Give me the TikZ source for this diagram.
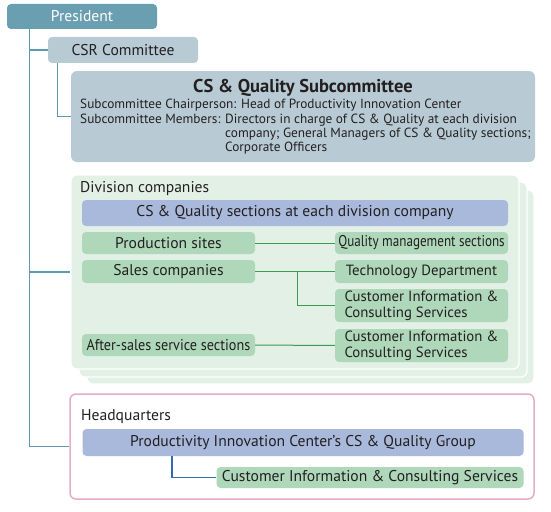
\documentclass[tikz,border=0pt]{standalone}
\usepackage{fontspec}
\setmainfont{PT Sans}
\newfontfamily\narrowfont[FakeStretch=0.84]{PT Sans}
\newfontfamily\semifont[FakeStretch=0.91]{PT Sans}
\usetikzlibrary{positioning}

\definecolor{presfill}{HTML}{6A9FB1}
\definecolor{trunkcol}{HTML}{5E9AAF}
\definecolor{greyblue}{HTML}{B8CBD5}
\definecolor{divbg}{HTML}{E3F0E6}
\definecolor{greenbox}{HTML}{AED8B9}
\definecolor{bluebar}{HTML}{A9B9DC}
\definecolor{greenline}{HTML}{3C9A52}
\definecolor{hqpink}{HTML}{E8AAC8}
\definecolor{hqline}{HTML}{2F6DB0}
\definecolor{txt}{HTML}{231F20}

\tikzset{
  box/.style={rounded corners=4pt, inner sep=0pt, text=txt, font=\fontsize{15.6}{16}\selectfont},
  unit/.style={box, fill=greenbox, minimum width=173pt},
  rightunit/.style={unit, font=\fontsize{14.8}{16}\selectfont},
  bar/.style={box, fill=bluebar},
  panel/.style={rounded corners=6pt, fill=divbg, draw=white, line width=1.2pt},
  trunk/.style={draw=trunkcol, line width=1.2pt},
  gline/.style={draw=greenline, line width=1pt},
}

\begin{document}
\begin{tikzpicture}[x=1pt,y=-1pt]
    \useasboundingbox (0,0) rectangle (551,511);
    % top of the chart
    \node[box, fill=presfill, text=white, minimum width=150pt, minimum height=25pt] (pres) at (82,16.5) {President};
    \node[box, fill=greyblue, minimum width=150pt, minimum height=26pt] (csr) at (123,50) {CSR Committee};
    \node[box, fill=greyblue, rounded corners=6pt, minimum width=464pt, minimum height=91pt] (sub) at (303,116.5) {};
    \node[font=\fontsize{18.5}{19}\selectfont\bfseries, text=txt, inner sep=0pt] (subtitle) at (303,87.5) {CS \& Quality Subcommittee};
    \node[anchor=north west, inner sep=0pt, text=txt, font=\fontsize{13.3}{14.3}\selectfont] (subtext) at (80,98.5) {%
      \begin{tabular}{@{}l@{ }l@{}}
        \multicolumn{2}{@{}l@{}}{Subcommittee Chairperson: Head of Productivity Innovation Center}\\
        Subcommittee Members: & Directors in charge of CS \& Quality at each division\\
        & company; General Managers of CS \& Quality sections;\\
        & Corporate Officers
      \end{tabular}};

    % division companies (stacked)
    \node[panel, minimum width=447pt, minimum height=194pt] (div3) at (310.5,287) {};
    \node[panel, minimum width=448pt, minimum height=195pt] (div2) at (303,279.5) {};
    \node[panel, minimum width=448pt, minimum height=194pt] (div) at (295,272) {};
    \node[anchor=west, inner sep=0pt, text=txt, font=\fontsize{15.6}{16}\selectfont] (divlabel) at (80,188.5) {Division companies};
    \node[bar, minimum width=426pt, minimum height=26pt] (divbar) at (295,213) {CS \& Quality sections at each division company};
    \node[unit, minimum height=22pt] (prod) at (168.5,243) {Production sites};
    \node[unit, minimum height=23pt] (sales) at (168.5,271.5) {Sales companies};
    \node[unit, minimum height=22pt] (after) at (168.5,345) {\semifont After-sales service sections};
    \node[unit, minimum height=22pt] (qms) at (421.5,243) {\narrowfont Quality management sections};
    \node[rightunit, minimum height=23pt] (tech) at (421.5,271.5) {Technology Department};
    \node[rightunit, minimum height=33pt, align=left] (cics1) at (421.5,305.5) {Customer Information \&\\Consulting Services};
    \node[rightunit, minimum height=33pt, align=left] (cics2) at (421.5,345.5) {Customer Information \&\\Consulting Services};
    \coordinate (split) at (297,271.5);
    \draw[gline] (prod) -- (qms);
    \draw[gline] (sales) -- (tech);
    \draw[gline] (split) |- (cics1.west);
    \draw[gline] (after) -- (cics2);

    % headquarters
    \node[rounded corners=6pt, draw=hqpink, line width=1.5pt, fill=white, minimum width=464pt, minimum height=105pt] (hq) at (302,446.5) {};
    \node[anchor=west, inner sep=0pt, text=txt, font=\fontsize{15.6}{16}\selectfont] (hqlabel) at (81,416.5) {Headquarters};
    \node[bar, minimum width=441pt, minimum height=27pt] (hqbar) at (303,442.5) {Productivity Innovation Center’s CS \& Quality Group};
    \node[unit, minimum width=307pt, minimum height=21pt] (cicshq) at (370,477.5) {Customer Information \& Consulting Services};
    \draw[draw=hqline, line width=1.2pt] ([xshift=-131pt]hqbar.south) |- (cicshq.west);

    % connectors from the president
    \coordinate (trunktop) at ([xshift=23pt]pres.south west);
    \draw[trunk] (trunktop) |- (hq.west);
    \draw[trunk] (trunktop |- csr.west) -- (csr.west);
    \draw[trunk] (trunktop |- div.west) -- (div.west);
    \draw[trunk] ([xshift=10pt]csr.south west) |- (sub.west);
\end{tikzpicture}
\end{document}
